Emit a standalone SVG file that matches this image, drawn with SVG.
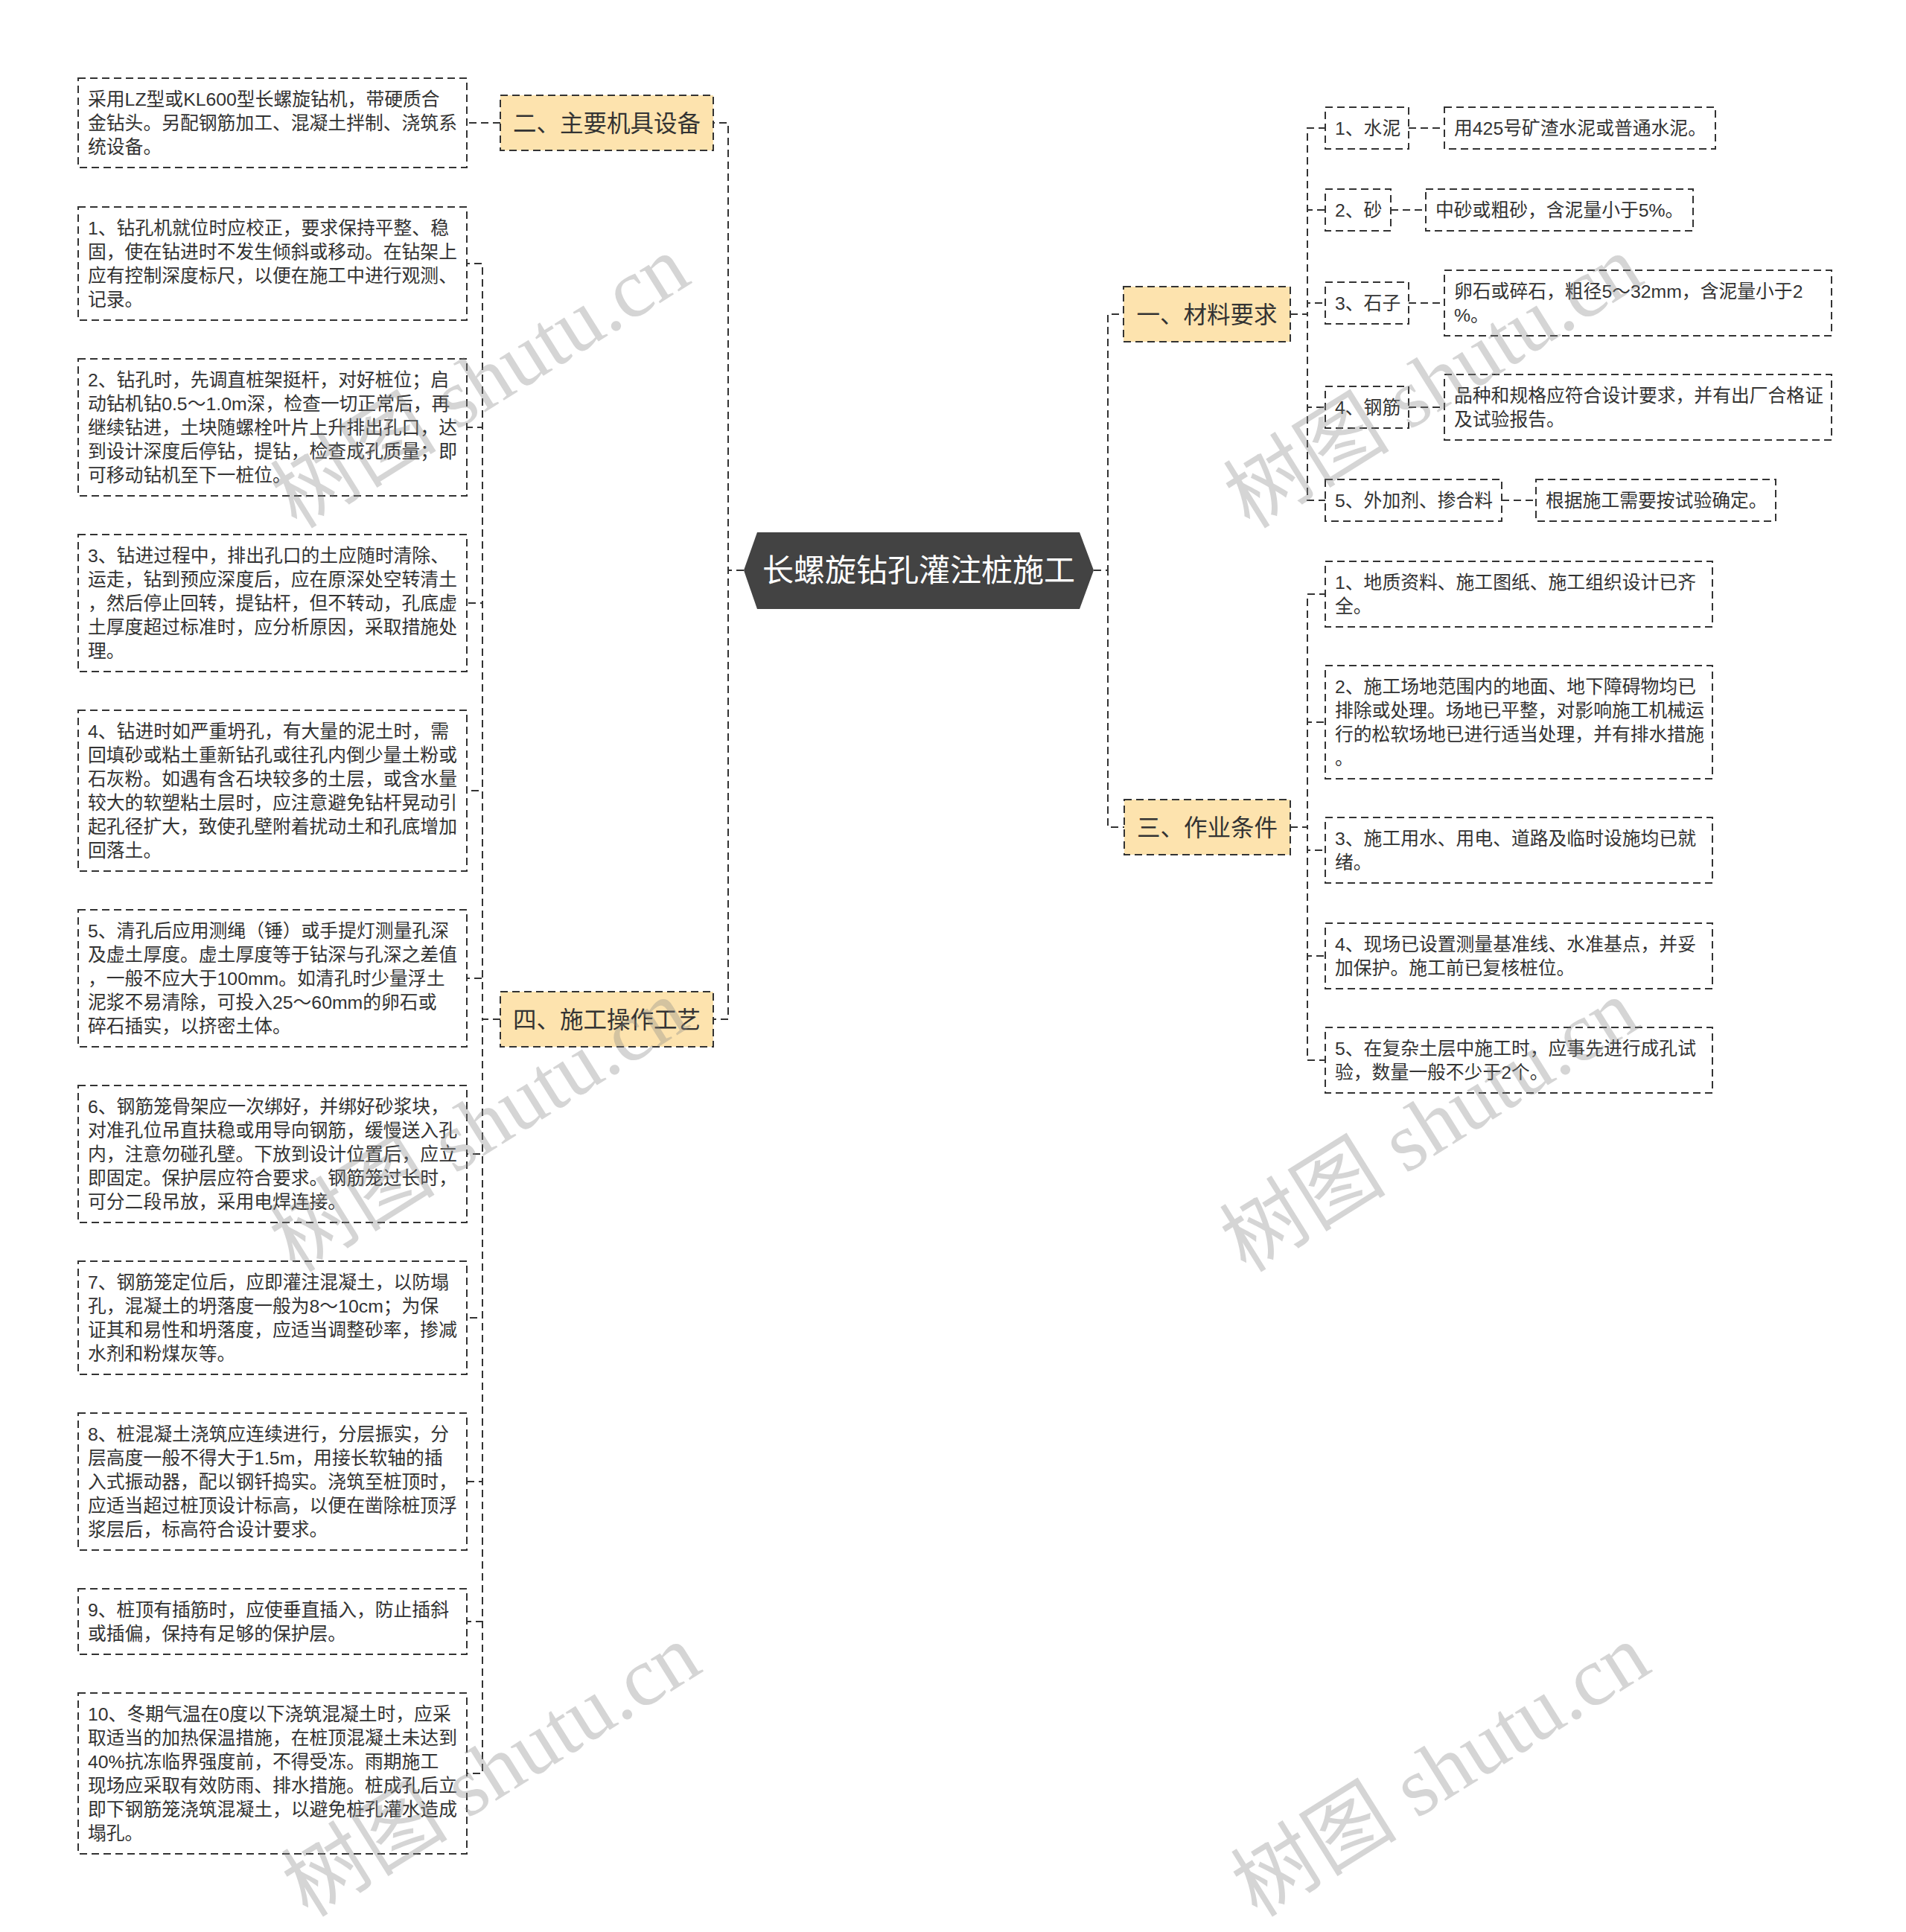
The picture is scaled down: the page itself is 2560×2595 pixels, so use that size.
<svg xmlns="http://www.w3.org/2000/svg" width="2560" height="2595" viewBox="0 0 2560 2595">
<style>
.bg{fill:#ffffff}
.leaf{fill:#ffffff;stroke:#333333;stroke-width:2;stroke-dasharray:10 6}
.branch{fill:#FDE3AE;stroke:#333333;stroke-width:2;stroke-dasharray:10 6}
.root{fill:#434343}
.conn{fill:none;stroke:#333333;stroke-width:2;stroke-dasharray:10 6}
.t{font-family:"Liberation Sans","Noto Sans CJK SC",sans-serif;font-size:24.8px;fill:#333333}
.bt{font-family:"Liberation Sans","Noto Sans CJK SC",sans-serif;font-size:31.5px;fill:#333333;text-anchor:middle}
.rt{font-family:"Liberation Sans","Noto Sans CJK SC",sans-serif;font-size:42px;fill:#ffffff;text-anchor:middle}
.wm{font-family:"Liberation Serif","Noto Sans CJK SC",serif;font-size:112px;fill:#888888;opacity:0.35;text-anchor:middle}
</style>
<rect class="bg" x="0" y="0" width="2560" height="2595"/>

<g id="connectors">
  <path class="conn" d="M999 766 L978 766 L978 165 L958 165"/>
  <path class="conn" d="M999 766 L978 766 L978 1369 L958 1369"/>
  <path class="conn" d="M1469 766 L1488 766 L1488 422 L1509 422"/>
  <path class="conn" d="M1469 766 L1488 766 L1488 1111 L1510 1111"/>
  <path class="conn" d="M672 165 L627 165"/>
  <path class="conn" d="M672 1369 L648 1369 L648 354 L627 354"/>
  <path class="conn" d="M672 1369 L648 1369 L648 574 L627 574"/>
  <path class="conn" d="M672 1369 L648 1369 L648 810 L627 810"/>
  <path class="conn" d="M672 1369 L648 1369 L648 1062 L627 1062"/>
  <path class="conn" d="M672 1369 L648 1369 L648 1314 L627 1314"/>
  <path class="conn" d="M672 1369 L648 1369 L648 1550 L627 1550"/>
  <path class="conn" d="M672 1369 L648 1369 L648 1770 L627 1770"/>
  <path class="conn" d="M672 1369 L648 1369 L648 1990 L627 1990"/>
  <path class="conn" d="M672 1369 L648 1369 L648 2178 L627 2178"/>
  <path class="conn" d="M672 1369 L648 1369 L648 2382 L627 2382"/>
  <path class="conn" d="M1733 422 L1756 422 L1756 172 L1780 172"/>
  <path class="conn" d="M1733 422 L1756 422 L1756 282 L1780 282"/>
  <path class="conn" d="M1733 422 L1756 422 L1756 407 L1780 407"/>
  <path class="conn" d="M1733 422 L1756 422 L1756 547 L1780 547"/>
  <path class="conn" d="M1733 422 L1756 422 L1756 672 L1780 672"/>
  <path class="conn" d="M1892 172 L1940 172"/>
  <path class="conn" d="M1868 282 L1915 282"/>
  <path class="conn" d="M1892 407 L1940 407"/>
  <path class="conn" d="M1892 547 L1940 547"/>
  <path class="conn" d="M2017 672 L2063 672"/>
  <path class="conn" d="M1733 1111 L1756 1111 L1756 798 L1780 798"/>
  <path class="conn" d="M1733 1111 L1756 1111 L1756 970 L1780 970"/>
  <path class="conn" d="M1733 1111 L1756 1111 L1756 1142 L1780 1142"/>
  <path class="conn" d="M1733 1111 L1756 1111 L1756 1284 L1780 1284"/>
  <path class="conn" d="M1733 1111 L1756 1111 L1756 1424 L1780 1424"/>
</g>

<g id="root">
  <polygon class="root" points="999,766 1017,715 1450,715 1469,766 1450,818 1017,818"/>
  <text class="rt" x="1234" y="781">长螺旋钻孔灌注桩施工</text>
</g>

<g id="branch-2">
  <rect class="branch" x="672" y="128" width="286" height="74"/>
  <text class="bt" x="815" y="177">二、主要机具设备</text>
</g>
<g id="branch-4">
  <rect class="branch" x="672" y="1332" width="286" height="74"/>
  <text class="bt" x="815" y="1381">四、施工操作工艺</text>
</g>
<g id="branch-1">
  <rect class="branch" x="1509" y="385" width="224" height="74"/>
  <text class="bt" x="1621" y="434">一、材料要求</text>
</g>
<g id="branch-3">
  <rect class="branch" x="1510" y="1074" width="223" height="74"/>
  <text class="bt" x="1621.5" y="1123">三、作业条件</text>
</g>

<g id="leaf-equip">
  <rect class="leaf" x="105" y="105" width="522" height="120"/>
  <text class="t" y="142"><tspan x="118">采用LZ型或KL600型长螺旋钻机，带硬质合</tspan><tspan x="118" dy="32">金钻头。另配钢筋加工、混凝土拌制、浇筑系</tspan><tspan x="118" dy="32">统设备。</tspan></text>
</g>
<g id="leaf-op1">
  <rect class="leaf" x="105" y="278" width="522" height="152"/>
  <text class="t" y="315"><tspan x="118">1、钻孔机就位时应校正，要求保持平整、稳</tspan><tspan x="118" dy="32">固，使在钻进时不发生倾斜或移动。在钻架上</tspan><tspan x="118" dy="32">应有控制深度标尺，以便在施工中进行观测、</tspan><tspan x="118" dy="32">记录。</tspan></text>
</g>
<g id="leaf-op2">
  <rect class="leaf" x="105" y="482" width="522" height="184"/>
  <text class="t" y="519"><tspan x="118">2、钻孔时，先调直桩架挺杆，对好桩位；启</tspan><tspan x="118" dy="32">动钻机钻0.5～1.0m深，检查一切正常后，再</tspan><tspan x="118" dy="32">继续钻进，土块随螺栓叶片上升排出孔口，达</tspan><tspan x="118" dy="32">到设计深度后停钻，提钻，检查成孔质量；即</tspan><tspan x="118" dy="32">可移动钻机至下一桩位。</tspan></text>
</g>
<g id="leaf-op3">
  <rect class="leaf" x="105" y="718" width="522" height="184"/>
  <text class="t" y="755"><tspan x="118">3、钻进过程中，排出孔口的土应随时清除、</tspan><tspan x="118" dy="32">运走，钻到预应深度后，应在原深处空转清土</tspan><tspan x="118" dy="32">，然后停止回转，提钻杆，但不转动，孔底虚</tspan><tspan x="118" dy="32">土厚度超过标准时，应分析原因，采取措施处</tspan><tspan x="118" dy="32">理。</tspan></text>
</g>
<g id="leaf-op4">
  <rect class="leaf" x="105" y="954" width="522" height="216"/>
  <text class="t" y="991"><tspan x="118">4、钻进时如严重坍孔，有大量的泥土时，需</tspan><tspan x="118" dy="32">回填砂或粘土重新钻孔或往孔内倒少量土粉或</tspan><tspan x="118" dy="32">石灰粉。如遇有含石块较多的土层，或含水量</tspan><tspan x="118" dy="32">较大的软塑粘土层时，应注意避免钻杆晃动引</tspan><tspan x="118" dy="32">起孔径扩大，致使孔壁附着扰动土和孔底增加</tspan><tspan x="118" dy="32">回落土。</tspan></text>
</g>
<g id="leaf-op5">
  <rect class="leaf" x="105" y="1222" width="522" height="184"/>
  <text class="t" y="1259"><tspan x="118">5、清孔后应用测绳（锤）或手提灯测量孔深</tspan><tspan x="118" dy="32">及虚土厚度。虚土厚度等于钻深与孔深之差值</tspan><tspan x="118" dy="32">，一般不应大于100mm。如清孔时少量浮土</tspan><tspan x="118" dy="32">泥浆不易清除，可投入25～60mm的卵石或</tspan><tspan x="118" dy="32">碎石插实，以挤密土体。</tspan></text>
</g>
<g id="leaf-op6">
  <rect class="leaf" x="105" y="1458" width="522" height="184"/>
  <text class="t" y="1495"><tspan x="118">6、钢筋笼骨架应一次绑好，并绑好砂浆块，</tspan><tspan x="118" dy="32">对准孔位吊直扶稳或用导向钢筋，缓慢送入孔</tspan><tspan x="118" dy="32">内，注意勿碰孔壁。下放到设计位置后，应立</tspan><tspan x="118" dy="32">即固定。保护层应符合要求。钢筋笼过长时，</tspan><tspan x="118" dy="32">可分二段吊放，采用电焊连接。</tspan></text>
</g>
<g id="leaf-op7">
  <rect class="leaf" x="105" y="1694" width="522" height="152"/>
  <text class="t" y="1731"><tspan x="118">7、钢筋笼定位后，应即灌注混凝土，以防塌</tspan><tspan x="118" dy="32">孔，混凝土的坍落度一般为8～10cm；为保</tspan><tspan x="118" dy="32">证其和易性和坍落度，应适当调整砂率，掺减</tspan><tspan x="118" dy="32">水剂和粉煤灰等。</tspan></text>
</g>
<g id="leaf-op8">
  <rect class="leaf" x="105" y="1898" width="522" height="184"/>
  <text class="t" y="1935"><tspan x="118">8、桩混凝土浇筑应连续进行，分层振实，分</tspan><tspan x="118" dy="32">层高度一般不得大于1.5m，用接长软轴的插</tspan><tspan x="118" dy="32">入式振动器，配以钢钎捣实。浇筑至桩顶时，</tspan><tspan x="118" dy="32">应适当超过桩顶设计标高，以便在凿除桩顶浮</tspan><tspan x="118" dy="32">浆层后，标高符合设计要求。</tspan></text>
</g>
<g id="leaf-op9">
  <rect class="leaf" x="105" y="2134" width="522" height="88"/>
  <text class="t" y="2171"><tspan x="118">9、桩顶有插筋时，应使垂直插入，防止插斜</tspan><tspan x="118" dy="32">或插偏，保持有足够的保护层。</tspan></text>
</g>
<g id="leaf-op10">
  <rect class="leaf" x="105" y="2274" width="522" height="216"/>
  <text class="t" y="2311"><tspan x="118">10、冬期气温在0度以下浇筑混凝土时，应采</tspan><tspan x="118" dy="32">取适当的加热保温措施，在桩顶混凝土未达到</tspan><tspan x="118" dy="32">40%抗冻临界强度前，不得受冻。雨期施工</tspan><tspan x="118" dy="32">现场应采取有效防雨、排水措施。桩成孔后立</tspan><tspan x="118" dy="32">即下钢筋笼浇筑混凝土，以避免桩孔灌水造成</tspan><tspan x="118" dy="32">塌孔。</tspan></text>
</g>

<g id="mat-1">
  <rect class="leaf" x="1780" y="144" width="112" height="56"/>
  <text class="t" x="1793" y="181">1、水泥</text>
</g>
<g id="mat-1-v">
  <rect class="leaf" x="1940" y="144" width="364" height="56"/>
  <text class="t" x="1953" y="181">用425号矿渣水泥或普通水泥。</text>
</g>
<g id="mat-2">
  <rect class="leaf" x="1780" y="254" width="88" height="56"/>
  <text class="t" x="1793" y="291">2、砂</text>
</g>
<g id="mat-2-v">
  <rect class="leaf" x="1915" y="254" width="359" height="56"/>
  <text class="t" x="1928" y="291">中砂或粗砂，含泥量小于5%。</text>
</g>
<g id="mat-3">
  <rect class="leaf" x="1780" y="379" width="112" height="56"/>
  <text class="t" x="1793" y="416">3、石子</text>
</g>
<g id="mat-3-v">
  <rect class="leaf" x="1940" y="363" width="520" height="88"/>
  <text class="t" y="400"><tspan x="1953">卵石或碎石，粗径5～32mm，含泥量小于2</tspan><tspan x="1953" dy="32">%。</tspan></text>
</g>
<g id="mat-4">
  <rect class="leaf" x="1780" y="519" width="112" height="56"/>
  <text class="t" x="1793" y="556">4、钢筋</text>
</g>
<g id="mat-4-v">
  <rect class="leaf" x="1940" y="503" width="520" height="88"/>
  <text class="t" y="540"><tspan x="1953">品种和规格应符合设计要求，并有出厂合格证</tspan><tspan x="1953" dy="32">及试验报告。</tspan></text>
</g>
<g id="mat-5">
  <rect class="leaf" x="1780" y="644" width="237" height="56"/>
  <text class="t" x="1793" y="681">5、外加剂、掺合料</text>
</g>
<g id="mat-5-v">
  <rect class="leaf" x="2063" y="644" width="322" height="56"/>
  <text class="t" x="2076" y="681">根据施工需要按试验确定。</text>
</g>

<g id="cond-1">
  <rect class="leaf" x="1780" y="754" width="520" height="88"/>
  <text class="t" y="791"><tspan x="1793">1、地质资料、施工图纸、施工组织设计已齐</tspan><tspan x="1793" dy="32">全。</tspan></text>
</g>
<g id="cond-2">
  <rect class="leaf" x="1780" y="894" width="520" height="152"/>
  <text class="t" y="931"><tspan x="1793">2、施工场地范围内的地面、地下障碍物均已</tspan><tspan x="1793" dy="32">排除或处理。场地已平整，对影响施工机械运</tspan><tspan x="1793" dy="32">行的松软场地已进行适当处理，并有排水措施</tspan><tspan x="1793" dy="32">。</tspan></text>
</g>
<g id="cond-3">
  <rect class="leaf" x="1780" y="1098" width="520" height="88"/>
  <text class="t" y="1135"><tspan x="1793">3、施工用水、用电、道路及临时设施均已就</tspan><tspan x="1793" dy="32">绪。</tspan></text>
</g>
<g id="cond-4">
  <rect class="leaf" x="1780" y="1240" width="520" height="88"/>
  <text class="t" y="1277"><tspan x="1793">4、现场已设置测量基准线、水准基点，并妥</tspan><tspan x="1793" dy="32">加保护。施工前已复核桩位。</tspan></text>
</g>
<g id="cond-5">
  <rect class="leaf" x="1780" y="1380" width="520" height="88"/>
  <text class="t" y="1417"><tspan x="1793">5、在复杂土层中施工时，应事先进行成孔试</tspan><tspan x="1793" dy="32">验，数量一般不少于2个。</tspan></text>
</g>

<g id="watermarks">
  <text class="wm" transform="translate(645,513) rotate(-32)" y="38">树图 shutu.cn</text>
  <text class="wm" transform="translate(643,1512) rotate(-32)" y="38">树图 shutu.cn</text>
  <text class="wm" transform="translate(660,2378) rotate(-32)" y="38">树图 shutu.cn</text>
  <text class="wm" transform="translate(1925,513) rotate(-32)" y="38">树图 shutu.cn</text>
  <text class="wm" transform="translate(1920,1512) rotate(-32)" y="38">树图 shutu.cn</text>
  <text class="wm" transform="translate(1935,2378) rotate(-32)" y="38">树图 shutu.cn</text>
</g>
</svg>
